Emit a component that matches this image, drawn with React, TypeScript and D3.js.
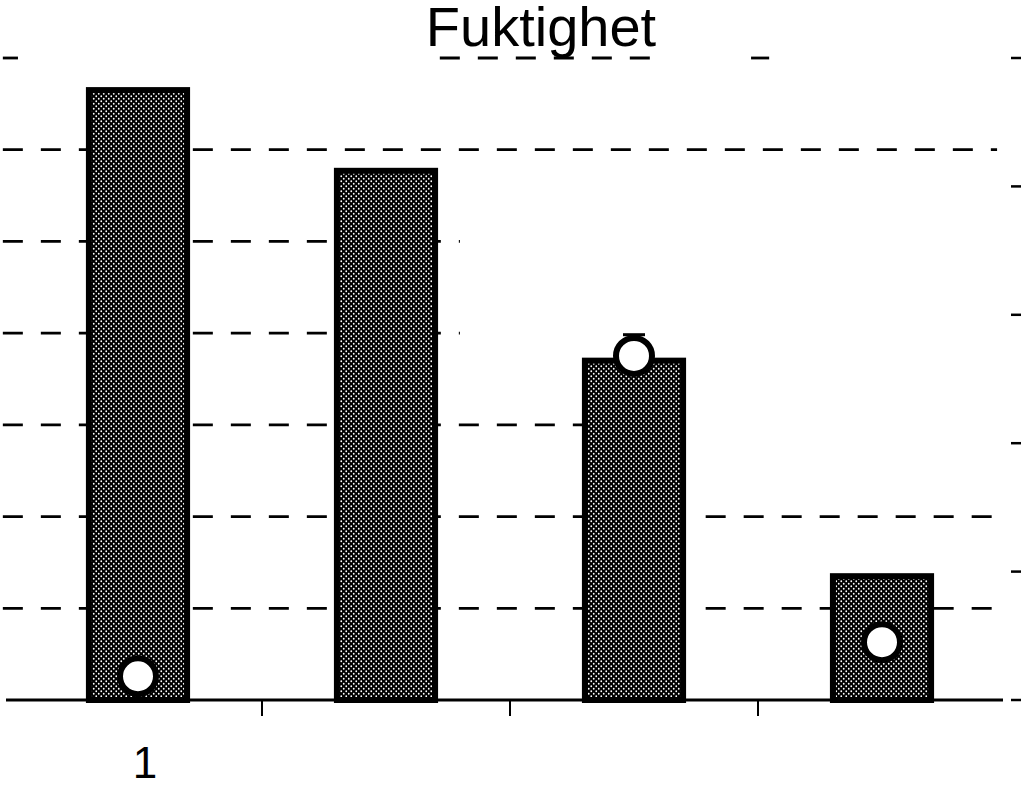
import { scaleBand, scaleLinear } from "d3";
import { useEffect } from "react";

// bars read on the left scale (0–70), dots on the right scale (0–100)
const categories = ["1", "2", "3", "4"];
const tickLabels = ["1", "", "", ""];
const barValues = [66.5, 57.7, 37.0, 13.5];
const dotValues: (number | null)[] = [3.7, null, 53.6, 9.0];
const dotUpper: (number | null)[] = [null, null, 56.9, null];
const leftTicks = [0, 10, 20, 30, 40, 50, 60, 70];
const rightTicks = [0, 20, 40, 60, 80, 100];

// parts of each grid line that survived in the scan, in category units
const gridSpans: Record<number, [number, number][]> = {
  70: [[-0.045, 0.016], [1.717, 2.607], [2.972, 3.045]],
  60: [[-0.045, 3.964]],
  50: [[-0.045, 1.798]],
  40: [[-0.045, 1.798]],
  30: [[-0.045, 2.296]],
  20: [[-0.045, 2.296], [2.789, 3.964]],
  10: [[-0.045, 2.296], [2.789, 3.964]],
};

const width = 1024;
const height = 788;
const plot = { left: 14, right: 1006, top: 58, bottom: 700 };
const border = 6;

export default function App() {
  useEffect(() => {
    document.body.style.margin = "0";
  }, []);

  const x = scaleBand()
    .domain(categories)
    .range([plot.left, plot.right])
    .paddingInner(0.58)
    .paddingOuter(0.29);
  const step = x.step();
  const xu = scaleLinear()
    .domain([0, categories.length])
    .range([plot.left, plot.left + step * categories.length]);

  const y = scaleLinear().domain([0, 70]).range([plot.bottom, plot.top]);
  const y2 = scaleLinear().domain([0, 100]).range([plot.bottom, plot.top]);

  const center = (c: string) => (x(c) ?? 0) + x.bandwidth() / 2;
  const boundaries = categories.slice(1).map((c) => (x(c) ?? 0) - (step - x.bandwidth()) / 2);

  return (
    <svg width={width} height={height} style={{ display: "block", background: "#fff" }}>
      <defs>
        <pattern id="dots" width={5} height={5} patternUnits="userSpaceOnUse">
          <rect width={5} height={5} fill="#000" />
          <circle cx={1.25} cy={1.25} r={0.9} fill="#fff" />
          <circle cx={3.75} cy={3.75} r={0.9} fill="#fff" />
        </pattern>
      </defs>

      <text
        x={541}
        y={46}
        textAnchor="middle"
        fontFamily="'Liberation Sans', Arial, sans-serif"
        fontSize={56}
        fill="#000"
      >
        Fuktighet
      </text>

      <g stroke="#000" strokeWidth={2.8} strokeDasharray="20 18">
        {leftTicks
          .filter((t) => t > 0)
          .map((t) =>
            (gridSpans[t] ?? []).map(([a, b], i) => (
              <line key={`g-${t}-${i}`} x1={xu(a)} x2={xu(b)} y1={y(t)} y2={y(t)} />
            ))
          )}
      </g>

      <g>
        {categories.map((c, i) => {
          const x0 = x(c) ?? 0;
          const top = y(barValues[i]);
          return (
            <rect
              key={`bar-${c}`}
              x={x0 + border / 2}
              y={top}
              width={x.bandwidth() - border}
              height={y(0) - top}
              fill="url(#dots)"
              stroke="#000"
              strokeWidth={border}
            />
          );
        })}
      </g>

      <line x1={6} x2={1003} y1={y(0)} y2={y(0)} stroke="#000" strokeWidth={3} />
      <g stroke="#000" strokeWidth={2}>
        {boundaries.map((bx, i) => (
          <line key={`xt-${i}`} x1={bx} x2={bx} y1={y(0)} y2={y(0) + 16} />
        ))}
      </g>

      <g stroke="#000" strokeWidth={2.5}>
        {rightTicks.map((t) => (
          <line key={`rt-${t}`} x1={1011} x2={1021} y1={y2(t)} y2={y2(t)} />
        ))}
      </g>

      <g>
        {categories.map((c, i) => {
          const v = dotValues[i];
          if (v === null) return null;
          const cx = center(c);
          const up = dotUpper[i];
          return (
            <g key={`dot-${c}`}>
              {up !== null && (
                <g stroke="#000" strokeWidth={3}>
                  <line x1={cx} x2={cx} y1={y2(v)} y2={y2(up)} />
                  <line x1={cx - 11} x2={cx + 11} y1={y2(up)} y2={y2(up)} />
                </g>
              )}
              <circle cx={cx} cy={y2(v)} r={18} fill="#fff" stroke="#000" strokeWidth={6} />
            </g>
          );
        })}
      </g>

      <g fontFamily="'Liberation Sans', Arial, sans-serif" fontSize={44} fill="#000">
        {categories.map((c, i) => (
          <text key={`xl-${c}`} x={center(c) + 7} y={778} textAnchor="middle">
            {tickLabels[i]}
          </text>
        ))}
      </g>
    </svg>
  );
}
